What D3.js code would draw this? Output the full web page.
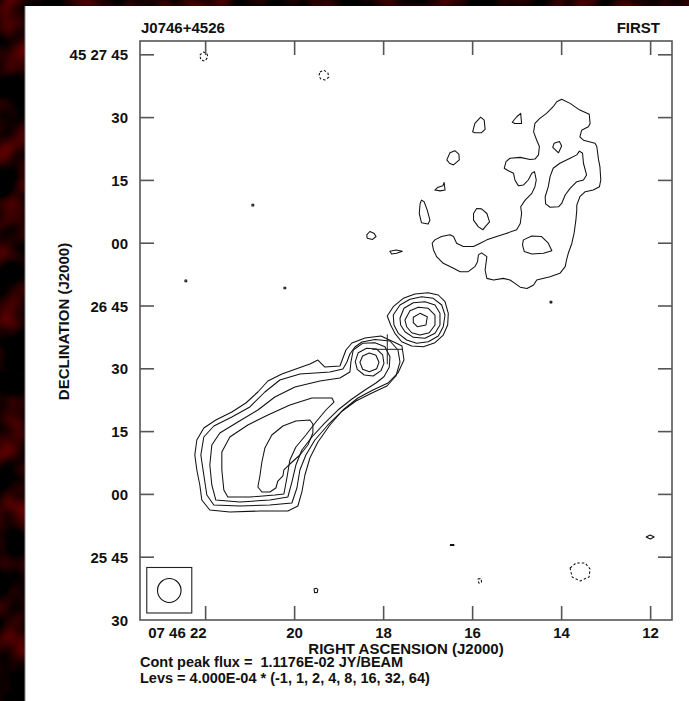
<!DOCTYPE html>
<html><head><meta charset="utf-8">
<script src="https://cdn.jsdelivr.net/npm/d3@7"></script>
<style>html,body{margin:0;padding:0;background:#000;}svg{display:block;}</style>
</head><body>
<svg id="chart" width="689" height="701"></svg>
<script>
// ---- Map description -------------------------------------------------
const sourceName = "J0746+4526";
const survey = "FIRST";
const peakFluxText = "Cont peak flux =  1.1176E-02 JY/BEAM";
const levelUnit = 4.0e-4;                 // Jy/beam
const levelMultipliers = [-1, 1, 2, 4, 8, 16, 32, 64];

// Axis ranges: RA in seconds of 07h46m, Dec in arcsec past +45d25m
const raRange = [23.475, 11.52];
const decRange = [30, 168.3];
const raTicks = [22, 20, 18, 16, 14, 12];
const raTickLabels = ["07 46 22", "20", "18", "16", "14", "12"];
const decTicks = [30, 45, 60, 75, 90, 105, 120, 135, 150, 165];
const decTickLabels = ["30", "25 45", "00", "15", "30", "26 45", "00", "15", "30", "45 27 45"];

// Restoring beam (arcsec) and where it is drawn
const beam = {ra: 22.817, dec: 37.05, diameter: 5.73};
// Pointing centre marker
const pointing = {ra: 17.918, dec: 94.65};

// ---- Contour rings: [RA s, Dec arcsec] vertices ---------------------
const northLobe = [
  {level: 1, pts: [[14.00,154.4],[13.81,153.4],[13.59,151.8],[13.38,150.8],[13.36,148.6],[13.40,147.8],[13.55,147.0],[13.59,145.4],[13.51,144.6],[13.25,143.9],[13.21,143.1],[13.17,139.9],[13.14,138.3],[13.12,135.1],[13.15,133.5],[13.29,132.7],[13.47,132.3],[13.59,131.1],[13.66,129.1],[13.66,127.9],[13.68,125.5],[13.72,122.4],[13.77,120.0],[13.85,117.6],[13.89,116.0],[13.92,114.4],[14.04,112.8],[14.26,112.0],[14.56,111.2],[14.63,110.0],[14.78,109.2],[14.93,109.5],[15.05,110.4],[15.16,111.2],[15.31,111.6],[15.53,111.2],[15.68,111.6],[15.72,113.6],[15.68,116.8],[15.80,117.7],[15.87,117.2],[15.89,115.6],[15.95,114.4],[16.10,113.2],[16.28,113.2],[16.43,114.0],[16.66,115.2],[16.81,116.8],[16.88,118.4],[16.91,120.0],[16.85,120.8],[16.70,121.6],[16.51,122.0],[16.43,121.6],[16.36,120.0],[16.21,119.2],[15.98,119.2],[15.83,120.0],[15.68,120.8],[15.46,121.6],[15.23,122.4],[15.01,123.2],[14.93,124.7],[14.90,127.1],[14.92,128.7],[14.82,130.3],[14.67,131.9],[14.60,133.5],[14.57,135.1],[14.61,137.1],[14.67,136.7],[14.75,135.1],[14.86,133.9],[14.97,133.7],[15.05,135.1],[15.08,136.7],[15.20,137.3],[15.29,137.9],[15.25,139.5],[15.16,140.3],[14.93,140.5],[14.71,140.0],[14.60,140.1],[14.52,141.1],[14.50,143.1],[14.56,144.6],[14.63,146.6],[14.60,148.6],[14.49,149.8],[14.34,151.0],[14.19,152.6],[14.11,153.8]]},
  {level: 2, pts: [[13.60,142.0],[13.53,141.5],[13.51,139.1],[13.44,136.3],[13.51,135.1],[13.66,134.7],[13.81,133.1],[13.92,131.5],[14.00,129.5],[14.07,128.7],[14.26,128.6],[14.36,129.4],[14.37,131.1],[14.30,133.5],[14.26,135.9],[14.19,137.9],[14.04,139.1],[13.81,140.3],[13.66,141.1]]},
  {level: 2, pts: [[14.17,143.9],[14.05,144.3],[14.00,143.2],[14.07,141.6],[14.20,142.9]]},
  {level: 2, pts: [[14.86,120.8],[14.67,121.7],[14.45,121.6],[14.30,120.0],[14.22,118.2],[14.41,117.6],[14.67,117.4],[14.84,118.0],[14.88,119.6]]}
];

const islands = [
  {level: 1, pts: [[16.00,146.6],[15.95,148.6],[15.82,150.1],[15.74,149.4],[15.72,147.2],[15.80,146.4],[15.95,146.4]]},
  {level: 1, pts: [[15.11,148.9],[15.01,150.2],[14.92,151.0],[14.90,148.6],[15.05,148.6]]},
  {level: 1, pts: [[16.58,139.9],[16.51,141.6],[16.40,142.1],[16.31,141.3],[16.30,139.9],[16.43,138.7],[16.52,139.1]]},
  {level: 1, pts: [[16.85,132.7],[16.79,133.3],[16.67,133.7],[16.64,134.5],[16.62,132.7],[16.73,132.5]]},
  {level: 1, pts: [[17.18,129.5],[17.15,130.3],[17.09,129.9],[17.02,127.9],[16.96,125.5],[17.00,124.6],[17.15,124.9],[17.20,127.1]]},
  {level: 1, pts: [[15.98,127.1],[15.91,128.3],[15.80,128.2],[15.68,127.1],[15.62,125.1],[15.72,123.9],[15.77,123.2],[15.87,123.9],[15.98,125.5]]},
  {level: 1, pts: [[18.38,122.0],[18.31,122.8],[18.22,122.4],[18.17,121.6],[18.25,120.9],[18.37,121.2]]},
  {level: 1, pts: [[17.86,118.1],[17.72,118.4],[17.58,118.1],[17.71,117.6],[17.82,117.4]]},
  {level: 1, pts: [[20.96,129.3],[20.92,129.3],[20.92,128.9],[20.96,128.9]]},
  {level: 1, pts: [[22.465,111.2],[22.425,111.2],[22.425,110.8],[22.465,110.8]]},
  {level: 1, pts: [[20.24,109.5],[20.20,109.5],[20.20,109.1],[20.24,109.1]]},
  {level: 1, pts: [[14.26,106.15],[14.22,106.15],[14.22,105.75],[14.26,105.75]]},
  {level: 1, pts: [[16.50,48.0],[16.42,48.0],[16.42,47.8],[16.50,47.8]]},
  {level: 1, pts: [[19.565,37.4],[19.52,37.6],[19.48,37.3],[19.49,36.6],[19.55,36.5]]},
  {level: 1, pts: [[12.10,49.83],[12.01,50.3],[11.92,49.83],[12.01,49.35]]}
];

const coreNE = [
  {level: 1, pts: [[17.919,102.61],[17.784,104.83],[17.559,106.84],[17.296,107.86],[16.997,108.17],[16.772,107.63],[16.621,106.03],[16.547,103.25],[16.561,100.46],[16.660,98.07],[16.846,96.23],[17.109,95.28],[17.370,95.45],[17.595,96.47],[17.746,98.48],[17.842,100.46]]},
  {level: 2, pts: [[17.784,102.85],[17.633,105.24],[17.408,106.60],[17.145,107.22],[16.884,106.84],[16.695,105.24],[16.621,102.85],[16.660,100.05],[16.772,97.83],[16.997,96.47],[17.258,96.09],[17.483,96.88],[17.671,98.48],[17.768,100.46]]},
  {level: 4, pts: [[17.633,102.06],[17.543,104.45],[17.334,105.79],[17.071,106.03],[16.846,105.24],[16.734,103.25],[16.734,100.46],[16.846,98.48],[17.071,97.28],[17.334,97.52],[17.521,98.86],[17.618,100.46]]},
  {level: 8, pts: [[17.521,101.65],[17.408,103.88],[17.222,104.69],[16.997,104.45],[16.846,102.85],[16.846,100.46],[16.974,98.62],[17.183,98.07],[17.370,98.62],[17.483,100.05]]},
  {level: 16, pts: [[17.334,102.30],[17.183,103.25],[17.019,102.44],[17.049,100.46],[17.244,100.05],[17.334,101.01]]}
];

const coreMid = [
  {level: 8, pts: [[18.638,91.70],[18.571,93.85],[18.382,94.90],[18.157,94.73],[18.022,93.30],[17.993,91.31],[18.060,89.55],[18.234,88.28],[18.436,88.52],[18.593,89.88]]},
  {level: 16, pts: [[18.533,91.55],[18.472,93.06],[18.323,93.77],[18.173,93.22],[18.105,91.55],[18.157,90.02],[18.323,89.31],[18.472,89.88]]}
];

const southLobe = [
  {level: 1, pts: [[18.982,90.67],[19.320,90.43],[19.477,92.10],[19.657,91.15],[19.972,89.95],[20.287,88.76],[20.601,87.09],[20.826,84.46],[21.096,81.83],[21.411,79.68],[21.771,77.77],[22.041,75.86],[22.198,72.99],[22.243,69.41],[22.198,65.83],[22.131,62.25],[22.086,58.66],[21.906,56.28],[21.456,55.80],[20.781,56.04],[20.152,56.04],[19.927,57.23],[19.837,60.58],[19.769,64.64],[19.657,68.70],[19.477,72.52],[19.207,76.58],[18.915,80.16],[18.578,83.03],[18.240,84.94],[17.903,86.61],[17.678,89.00],[17.543,92.10],[17.588,95.45],[17.723,96.16],[18.060,97.83],[18.420,97.36],[18.713,96.16],[18.847,94.49],[18.915,92.58]]},
  {level: 2, pts: [[19.207,89.24],[19.882,88.76],[20.332,87.32],[20.669,84.46],[21.006,80.88],[21.411,78.49],[21.816,76.34],[22.041,73.71],[22.108,69.41],[22.041,64.64],[21.973,59.86],[21.816,57.47],[21.231,57.23],[20.556,57.47],[20.062,57.95],[19.949,61.53],[19.882,65.83],[19.747,69.41],[19.545,72.99],[19.252,76.58],[18.960,79.68],[18.623,82.31],[18.263,84.22],[17.926,85.89],[17.723,88.28],[17.633,91.62],[17.678,94.49],[17.858,96.64],[18.195,97.00],[18.488,96.40],[18.645,95.21],[18.758,93.53],[18.825,91.62],[18.915,89.95]]},
  {level: 4, pts: [[18.472,96.09],[18.195,96.23],[17.971,95.28],[17.858,92.89],[17.874,90.36],[17.993,88.11],[18.173,86.61],[18.420,84.94],[18.713,82.79],[19.027,80.16],[19.320,77.06],[19.612,73.71],[19.837,70.61],[19.972,67.02],[20.062,62.96],[20.152,59.38],[20.556,58.66],[21.231,58.19],[21.771,58.66],[21.861,62.25],[21.906,67.02],[21.861,71.80],[21.681,74.67],[21.276,77.29],[20.826,80.16],[20.444,83.26],[19.994,85.65],[19.432,87.09],[18.982,87.80],[18.758,89.24],[18.735,91.62],[18.683,94.49]]},
  {level: 8, pts: [[19.162,83.03],[19.612,83.03],[20.107,81.35],[20.601,78.97],[21.051,76.58],[21.456,73.71],[21.636,70.13],[21.636,65.83],[21.591,61.05],[21.501,59.38],[21.006,59.38],[20.444,59.86],[20.242,60.10],[20.174,63.92],[20.107,68.22],[19.972,71.32],[19.747,74.19],[19.522,77.29],[19.297,80.16],[19.117,82.07]]},
  {level: 16, pts: [[19.657,77.77],[19.972,77.53],[20.264,76.34],[20.512,74.19],[20.669,71.08],[20.736,67.74],[20.781,64.40],[20.826,61.77],[20.736,60.58],[20.556,60.58],[20.422,61.53],[20.377,63.20],[20.264,64.40],[20.242,65.83],[20.107,67.26],[19.882,69.41],[19.702,71.80],[19.590,74.67],[19.590,76.82]]}
];

const negativeRings = [
  {level: -1, pts: [[22.131,164.94],[22.063,165.66],[21.973,165.42],[21.951,164.47],[22.018,163.51],[22.108,163.75]]},
  {level: -1, pts: [[19.432,160.88],[19.342,161.36],[19.252,160.65],[19.230,159.69],[19.320,158.97],[19.410,159.21],[19.455,159.93]]},
  {level: -1, pts: [[13.810,42.42],[13.675,43.62],[13.473,43.62],[13.361,42.19],[13.383,40.28],[13.586,39.32],[13.765,40.28]]},
  {level: -1, pts: [[15.88,39.8],[15.81,39.9],[15.80,39.0],[15.86,38.8]]}
];

// ---- Layout -----------------------------------------------------------
const W = 689, H = 701;
const plot = {left: 140, right: 672, top: 41, bottom: 620};
const font = "'Liberation Sans', Arial, Helvetica, sans-serif";

const svg = d3.select("#chart");
const x = d3.scaleLinear().domain(raRange).range([plot.left, plot.right]);
const y = d3.scaleLinear().domain(decRange).range([plot.bottom, plot.top]);
const pxPerArcsec = Math.abs(y(1) - y(0));

// dark mottled surround
const defs = svg.append("defs");
const f = defs.append("filter").attr("id", "mottle").attr("x", 0).attr("y", 0).attr("width", 1).attr("height", 1)
  .attr("color-interpolation-filters", "sRGB");
f.append("feTurbulence").attr("type", "fractalNoise").attr("baseFrequency", 0.03).attr("numOctaves", 2).attr("seed", 11);
f.append("feColorMatrix").attr("type", "matrix")
  .attr("values", "0.85 0 0 0 -0.33  0 0 0 0 0.0  0 0 0 0 0.0  0 0 0 0 1");
svg.append("rect").attr("width", W).attr("height", H).attr("filter", "url(#mottle)");
svg.append("rect").attr("x", 25).attr("y", 6).attr("width", W - 25).attr("height", H - 6).attr("fill", "#fff");
svg.append("line").attr("x1", 25).attr("x2", 25).attr("y1", 6).attr("y2", H).attr("stroke", "#888").attr("stroke-width", 1);

defs.append("clipPath").attr("id", "plotClip").append("rect")
  .attr("x", plot.left).attr("y", plot.top)
  .attr("width", plot.right - plot.left).attr("height", plot.bottom - plot.top);

// contours
const ring = d3.line().x(d => x(d[0])).y(d => y(d[1])).curve(d3.curveLinearClosed);
const allRings = [].concat(negativeRings, islands, northLobe, coreNE, coreMid, southLobe);
const cg = svg.append("g").attr("clip-path", "url(#plotClip)");
cg.selectAll("path.contour").data(allRings).join("path")
  .attr("class", "contour")
  .attr("d", d => ring(d.pts))
  .attr("fill", "none")
  .attr("stroke", "#111")
  .attr("stroke-width", 1.05)
  .attr("stroke-linejoin", "round")
  .attr("stroke-dasharray", d => d.level < 0 ? "2.5,2" : null);

// pointing cross
const crossHalf = 15;
cg.append("line").attr("x1", x(pointing.ra) - crossHalf).attr("x2", x(pointing.ra) + crossHalf)
  .attr("y1", y(pointing.dec)).attr("y2", y(pointing.dec)).attr("stroke", "#222").attr("stroke-width", 1);
cg.append("line").attr("x1", x(pointing.ra)).attr("x2", x(pointing.ra))
  .attr("y1", y(pointing.dec) - crossHalf).attr("y2", y(pointing.dec) + crossHalf).attr("stroke", "#222").attr("stroke-width", 1);

// beam with its box
const bx = x(beam.ra), by = y(beam.dec), br = beam.diameter / 2 * pxPerArcsec;
svg.append("rect").attr("x", bx - 22.5).attr("y", by - 23).attr("width", 45).attr("height", 45.5)
  .attr("fill", "none").attr("stroke", "#222").attr("stroke-width", 1.1);
svg.append("ellipse").attr("cx", bx).attr("cy", by).attr("rx", br * 0.98).attr("ry", br)
  .attr("fill", "none").attr("stroke", "#111").attr("stroke-width", 1.1);

// frame and ticks
const frameColor = "#555", tickLen = 14;
const axes = svg.append("g").attr("stroke", frameColor).attr("stroke-width", 1.6);
axes.append("rect").attr("x", plot.left).attr("y", plot.top)
  .attr("width", plot.right - plot.left).attr("height", plot.bottom - plot.top).attr("fill", "none");
raTicks.forEach(t => {
  axes.append("line").attr("x1", x(t)).attr("x2", x(t)).attr("y1", plot.top).attr("y2", plot.top + tickLen);
  axes.append("line").attr("x1", x(t)).attr("x2", x(t)).attr("y1", plot.bottom).attr("y2", plot.bottom - tickLen);
});
decTicks.forEach(t => {
  if (y(t) >= plot.bottom - 0.5) return;
  axes.append("line").attr("x1", plot.left).attr("x2", plot.left + tickLen).attr("y1", y(t)).attr("y2", y(t));
  axes.append("line").attr("x1", plot.right).attr("x2", plot.right - tickLen).attr("y1", y(t)).attr("y2", y(t));
});

// text
const txt = (xx, yy, s, anchor, size) => svg.append("text").attr("x", xx).attr("y", yy).text(s)
  .attr("font-family", font).attr("font-weight", "bold").attr("font-size", size || 15)
  .attr("fill", "#111").attr("text-anchor", anchor || "start").style("white-space", "pre");

txt(plot.left + 1, 33, sourceName);
txt(660, 33, survey, "end");
decTicks.forEach((t, i) => txt(128, y(t) + 5.5, decTickLabels[i], "end"));
raTicks.forEach((t, i) => txt(i === 0 ? x(t) + 1 : x(t), 638, raTickLabels[i], i === 0 ? "end" : "middle"));
txt((plot.left + plot.right) / 2, 654, "RIGHT ASCENSION (J2000)", "middle");
txt(0, 0, "DECLINATION (J2000)", "middle").attr("transform", `translate(69,${(plot.top + plot.bottom) / 2 - 9}) rotate(-90)`);
txt(plot.left, 667, peakFluxText, "start", 14.5);
const levText = "Levs = " + levelUnit.toExponential(3).toUpperCase().replace("E-4", "E-04") +
  " * (" + levelMultipliers.join(", ") + ")";
txt(plot.left, 683, levText, "start", 14.5);
</script>
</body></html>
